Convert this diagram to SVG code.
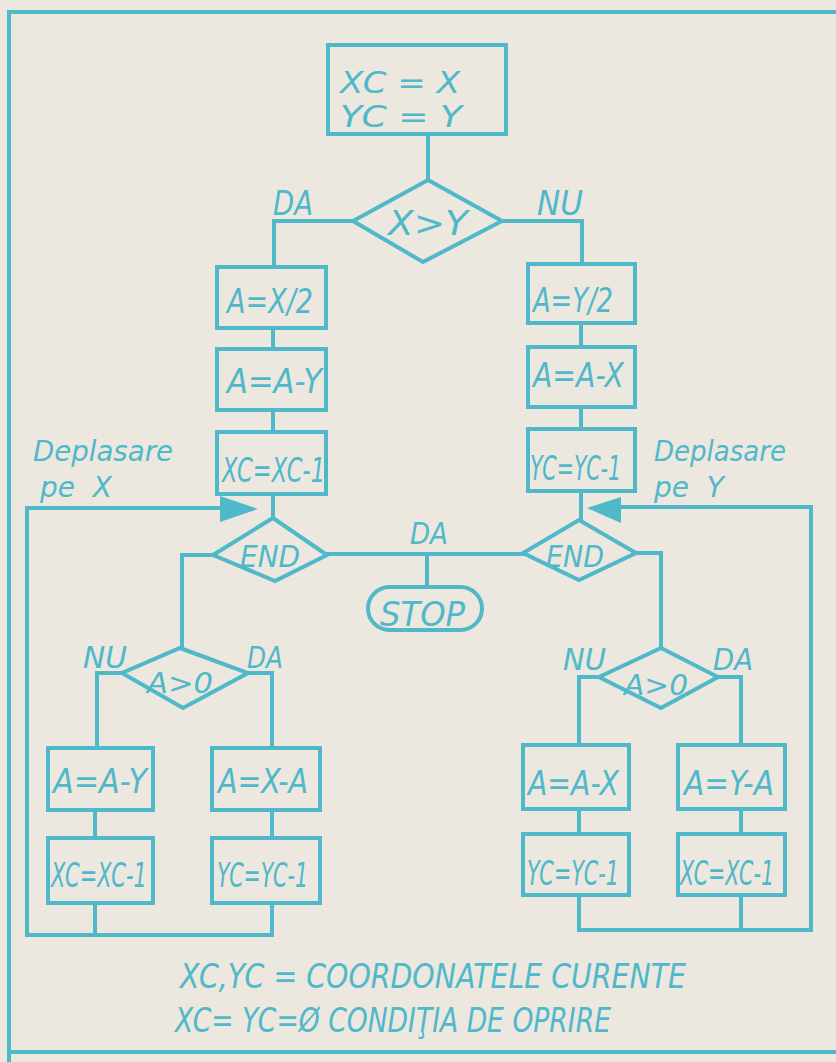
<svg xmlns="http://www.w3.org/2000/svg" width="836" height="1062" viewBox="0 0 836 1062">
<style>
.s{fill:none;stroke:#4fb8c9;stroke-width:4;stroke-linejoin:miter;stroke-linecap:square}
.t{fill:#4fb8c9;font-family:"DejaVu Sans",sans-serif;font-style:oblique}
</style>
<rect width="836" height="1062" fill="#ece7df"/>
<g id="frame">
<path class="s" d="M9 1062 V12 H836"/>
<path class="s" d="M9 1052 H836"/>
</g>
<g id="connectors">
<path class="s" d="M428 134 V180"/>
<path class="s" d="M353 221 H274 V267"/>
<path class="s" d="M502 221 H582 V264"/>
<path class="s" d="M273 328 V349 M273 410 V432 M273 494 V518"/>
<path class="s" d="M581 323 V347 M581 407 V429 M581 491 V520"/>
<path class="s" d="M327 554 H523"/>
<path class="s" d="M427 554 V587"/>
<path class="s" d="M213 555 H182 V648"/>
<path class="s" d="M636 553 H661 V648"/>
<path class="s" d="M122 673 H97 V748"/>
<path class="s" d="M248 673 H272 V748"/>
<path class="s" d="M599 677 H579 V745"/>
<path class="s" d="M718 677 H741 V745"/>
<path class="s" d="M95 810 V838 M272 810 V838"/>
<path class="s" d="M579 809 V834 M741 809 V834"/>
<path class="s" d="M95 903 V935 M272 903 V935 H27 V508 H222"/>
<path class="s" d="M579 895 V930 M741 895 V930 M579 930 H811 V507 H620"/>
<path d="M220 496 L258 509 L220 522 Z" fill="#4fb8c9"/>
<path d="M621 497 L587 508 L621 523 Z" fill="#4fb8c9"/>
</g>
<g id="start">
<rect class="s" x="328" y="45" width="178" height="89"/>
<text class="t" x="340" y="93" font-size="31" textLength="120" lengthAdjust="spacingAndGlyphs">XC = X</text>
<text class="t" x="340" y="127" font-size="31" textLength="122" lengthAdjust="spacingAndGlyphs">YC = Y</text>
</g>
<g id="cmp">
<path class="s" d="M428 180 L502 221 L423 262 L353 221 Z"/>
<text class="t" x="388" y="235" font-size="33" textLength="80" lengthAdjust="spacingAndGlyphs">X&gt;Y</text>
<text class="t" x="273" y="215" font-size="33" textLength="40" lengthAdjust="spacingAndGlyphs">DA</text>
<text class="t" x="537" y="215" font-size="33" textLength="46" lengthAdjust="spacingAndGlyphs">NU</text>
</g>
<g id="l1"><rect class="s" x="217" y="267" width="109" height="61"/><text class="t" x="227" y="313" font-size="34" textLength="86" lengthAdjust="spacingAndGlyphs">A=X/2</text></g>
<g id="l2"><rect class="s" x="217" y="349" width="109" height="61"/><text class="t" x="227" y="393" font-size="34" textLength="95" lengthAdjust="spacingAndGlyphs">A=A-Y</text></g>
<g id="l3"><rect class="s" x="217" y="432" width="109" height="62"/><text class="t" x="222" y="482" font-size="34" textLength="103" lengthAdjust="spacingAndGlyphs">XC=XC-1</text></g>
<g id="r1"><rect class="s" x="528" y="264" width="107" height="59"/><text class="t" x="533" y="312" font-size="34" textLength="80" lengthAdjust="spacingAndGlyphs">A=Y/2</text></g>
<g id="r2"><rect class="s" x="528" y="347" width="107" height="60"/><text class="t" x="533" y="387" font-size="34" textLength="91" lengthAdjust="spacingAndGlyphs">A=A-X</text></g>
<g id="r3"><rect class="s" x="528" y="429" width="107" height="62"/><text class="t" transform="translate(530 480) scale(0.6 1)" x="0" y="0" font-size="34" textLength="152" lengthAdjust="spacingAndGlyphs">YC=YC-1</text></g>
<g id="labelX">
<text class="t" x="33" y="461" font-size="28" textLength="140" lengthAdjust="spacingAndGlyphs">Deplasare</text>
<text class="t" x="40" y="497" font-size="28" xml:space="preserve">pe  X</text>
</g>
<g id="labelY">
<text class="t" x="654" y="461" font-size="28" textLength="132" lengthAdjust="spacingAndGlyphs">Deplasare</text>
<text class="t" x="654" y="497" font-size="28" xml:space="preserve">pe  Y</text>
</g>
<g id="endL">
<path class="s" d="M273 518 L327 555 L275 581 L213 555 Z"/>
<text class="t" x="240" y="567" font-size="30" textLength="60" lengthAdjust="spacingAndGlyphs">END</text>
</g>
<g id="endR">
<path class="s" d="M579 520 L636 553 L579 580 L523 553 Z"/>
<text class="t" x="546" y="567" font-size="30" textLength="58" lengthAdjust="spacingAndGlyphs">END</text>
</g>
<g id="stop">
<text class="t" x="410" y="544" font-size="30" textLength="38" lengthAdjust="spacingAndGlyphs">DA</text>
<rect class="s" x="368" y="587" width="114" height="43" rx="21.5"/>
<text class="t" x="380" y="626" font-size="34" textLength="85" lengthAdjust="spacingAndGlyphs">STOP</text>
</g>
<g id="aL">
<path class="s" d="M180 648 L248 673 L183 708 L122 673 Z"/>
<text class="t" x="147" y="693" font-size="29" textLength="66" lengthAdjust="spacingAndGlyphs">A&gt;0</text>
<text class="t" x="83" y="668" font-size="31" textLength="44" lengthAdjust="spacingAndGlyphs">NU</text>
<text class="t" x="247" y="668" font-size="31" textLength="36" lengthAdjust="spacingAndGlyphs">DA</text>
</g>
<g id="aR">
<path class="s" d="M661 648 L718 677 L661 708 L599 677 Z"/>
<text class="t" x="624" y="695" font-size="29" textLength="64" lengthAdjust="spacingAndGlyphs">A&gt;0</text>
<text class="t" x="563" y="670" font-size="31" textLength="43" lengthAdjust="spacingAndGlyphs">NU</text>
<text class="t" x="713" y="670" font-size="31" textLength="40" lengthAdjust="spacingAndGlyphs">DA</text>
</g>
<g id="b1"><rect class="s" x="48" y="748" width="105" height="62"/><text class="t" x="53" y="793" font-size="33" textLength="94" lengthAdjust="spacingAndGlyphs">A=A-Y</text></g>
<g id="b2"><rect class="s" x="48" y="838" width="105" height="65"/><text class="t" x="51" y="887" font-size="33" textLength="96" lengthAdjust="spacingAndGlyphs">XC=XC-1</text></g>
<g id="b3"><rect class="s" x="212" y="748" width="108" height="62"/><text class="t" x="218" y="793" font-size="33" textLength="90" lengthAdjust="spacingAndGlyphs">A=X-A</text></g>
<g id="b4"><rect class="s" x="212" y="838" width="108" height="65"/><text class="t" x="217" y="887" font-size="33" textLength="91" lengthAdjust="spacingAndGlyphs">YC=YC-1</text></g>
<g id="b5"><rect class="s" x="523" y="745" width="106" height="64"/><text class="t" x="528" y="795" font-size="33" textLength="91" lengthAdjust="spacingAndGlyphs">A=A-X</text></g>
<g id="b6"><rect class="s" x="523" y="834" width="106" height="61"/><text class="t" x="527" y="885" font-size="33" textLength="92" lengthAdjust="spacingAndGlyphs">YC=YC-1</text></g>
<g id="b7"><rect class="s" x="678" y="745" width="107" height="64"/><text class="t" x="684" y="795" font-size="33" textLength="90" lengthAdjust="spacingAndGlyphs">A=Y-A</text></g>
<g id="b8"><rect class="s" x="678" y="834" width="107" height="61"/><text class="t" x="680" y="885" font-size="33" textLength="94" lengthAdjust="spacingAndGlyphs">XC=XC-1</text></g>
<g id="legend">
<text class="t" x="180" y="988" font-size="34" textLength="506" lengthAdjust="spacingAndGlyphs">XC,YC = COORDONATELE CURENTE</text>
<text class="t" x="175" y="1032" font-size="34" textLength="436" lengthAdjust="spacingAndGlyphs">XC= YC=Ø CONDIŢIA DE OPRIRE</text>
</g>
</svg>
